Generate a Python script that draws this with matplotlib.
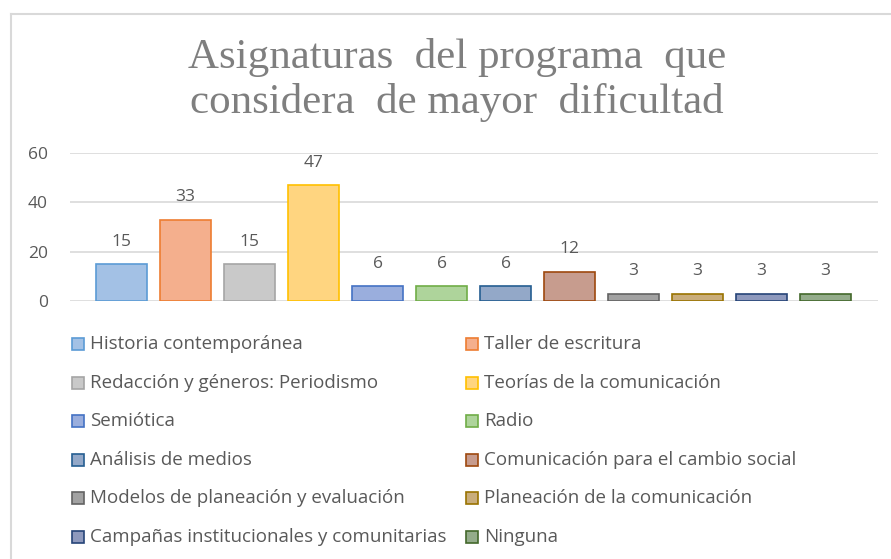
import matplotlib
matplotlib.use("Agg")
import matplotlib.pyplot as plt
from matplotlib.patches import Rectangle
from matplotlib.lines import Line2D

# Data
categories = [
    "Historia contemporánea",
    "Taller de escritura",
    "Redacción y géneros: Periodismo",
    "Teorías de la comunicación",
    "Semiótica",
    "Radio",
    "Análisis de medios",
    "Comunicación para el cambio social",
    "Modelos de planeación y evaluación",
    "Planeación de la comunicación",
    "Campañas institucionales y comunitarias",
    "Ninguna",
]
values = [15, 33, 15, 47, 6, 6, 6, 12, 3, 3, 3, 3]
yticks = [0, 20, 40, 60]
title_lines = ["Asignaturas  del programa  que",
               "considera  de mayor  dificultad"]

fills = ["#A3C1E5", "#F4AF8D", "#C9C9C9", "#FFD580", "#9AAEDD", "#AED49B",
         "#93A8C8", "#C79C8E", "#A2A2A2", "#C9AD7B", "#8E99BD", "#94AC8B"]
edges = ["#5B9BD5", "#ED7D31", "#A5A5A5", "#FFC000", "#4472C4", "#70AD47",
         "#255E91", "#9E480E", "#636363", "#997300", "#264478", "#43682B"]

TEXT = "#595959"
W, H = 891, 559

fig = plt.figure(figsize=(W / 100, H / 100), dpi=100)
fig.patch.set_facecolor("white")

# Chart frame (top and left border)
fig.add_artist(Line2D([11 / W, 1.0], [1 - 13.5 / H, 1 - 13.5 / H],
                      color="#D9D9D9", lw=1.5, transform=fig.transFigure))
fig.add_artist(Line2D([11 / W, 11 / W], [0.0, 1 - 13.5 / H],
                      color="#D9D9D9", lw=1.5, transform=fig.transFigure))

# Title, two lines
for line, base in zip(title_lines, [68, 113]):
    fig.text(457 / W, 1 - base / H, line, ha="center", va="baseline",
             fontsize=31, color="#7F7F7F", family="Liberation Serif")

# Plot area
ax = fig.add_axes([70 / W, 1 - 301.3 / H, 808 / W, (301.3 - 153) / H])
x = list(range(len(values)))
bars = ax.bar(x, values, width=0.8, color=fills, edgecolor=edges,
              linewidth=1.2, zorder=3)
ax.set_xlim(-0.805, 11.82)
ax.set_ylim(0, 60)
ax.set_yticks(yticks)
ax.yaxis.grid(True, color="#D9D9D9", lw=1.2, zorder=0)
ax.set_xticks([])
for s in ax.spines.values():
    s.set_visible(False)
ax.tick_params(axis="y", length=0, pad=16, labelsize=12.5, labelcolor=TEXT)
for lbl in ax.get_yticklabels():
    lbl.set_family("Open Sans")

for xi, v in zip(x, values):
    ax.annotate(str(v), (xi, v), xytext=(0, 10.5), textcoords="offset points",
                ha="center", va="bottom", fontsize=12.5, color=TEXT,
                family="Open Sans", annotation_clip=False)

# Legend in two columns
col_x = [72, 466]
row_y0, row_dy = 344, 38.6
box = 12
for i, (name, fc, ec) in enumerate(zip(categories, fills, edges)):
    cx = col_x[i % 2]
    cy = row_y0 + (i // 2) * row_dy
    fig.add_artist(Rectangle((cx / W, 1 - (cy + box / 2) / H), box / W, box / H,
                             facecolor=fc, edgecolor=ec, lw=1.2,
                             transform=fig.transFigure))
    fig.text((cx + box + 6) / W, 1 - cy / H, name, ha="left", va="center",
             fontsize=13.5, color=TEXT, family="Open Sans")

fig.savefig("out.png", dpi=100)
